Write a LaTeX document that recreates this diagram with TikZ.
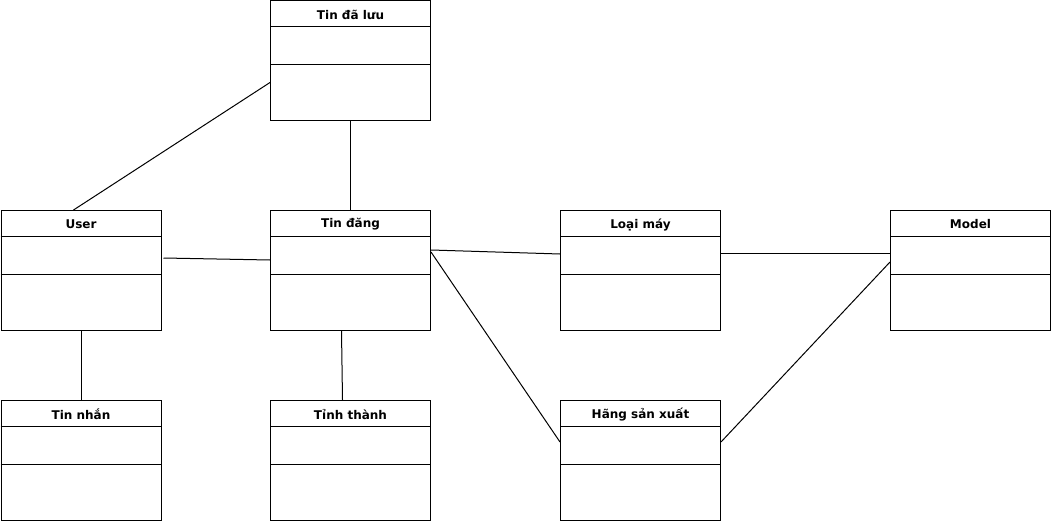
\documentclass[tikz,border=0pt]{standalone}
\usepackage{fontspec}
\setmainfont{DejaVu Sans}
\usetikzlibrary{calc}
\tikzset{
  umlclass/.style={draw, line width=1pt, minimum width=160pt, minimum height=120pt, inner sep=0pt, fill=white},
  umltitle/.style={font=\bfseries\fontsize{12pt}{14pt}\selectfont, inner sep=0pt, anchor=center},
  conn/.style={line width=1pt},
  sepline/.style={line width=1pt}
}
\newcommand{\umlbox}[3]{%
  \node[umlclass, anchor=north west] (#1) at (#2) {};
  \node[umltitle] (#1t) at ($(#1.north)+(0,14.5)$) {#3};
  \draw[sepline] ($(#1.north west)+(0,26)$) -- ($(#1.north east)+(0,26)$);
  \draw[sepline] ($(#1.north west)+(0,64)$) -- ($(#1.north east)+(0,64)$);
}
\begin{document}
\begin{tikzpicture}[x=1pt,y=-1pt]
\useasboundingbox (0,0) rectangle (1052,524);
\umlbox{tdl}{270,0.5}{Tin đã lưu}
\umlbox{user}{0.5,210}{User}
\umlbox{tindang}{270,210}{Tin đăng}
\umlbox{loaimay}{560,210}{Loại máy}
\umlbox{model}{890,210}{Model}
\umlbox{tinnhan}{0.5,400}{Tin nhắn}
\umlbox{tinhthanh}{270,400}{Tỉnh thành}
\umlbox{hang}{560,400}{Hãng sản xuất}

\draw[conn] ($(tdl.north west)+(0,82)$) -- ($(user.north west)+(73,0)$);
\draw[conn] (tdl.south) -- (tindang.north);
\draw[conn] ($(user.north east)+(2,48)$) -- ($(tindang.north west)+(0,50)$);
\draw[conn] (user.south) -- (tinnhan.north);
\draw[conn] ($(tindang.south)+(-9,0)$) -- ($(tinhthanh.north)+(-8,0)$);
\draw[conn] ($(tindang.north east)+(0,40)$) -- ($(loaimay.north west)+(0,44)$);
\draw[conn] ($(tindang.north east)+(0,42)$) -- ($(hang.north west)+(0,42)$);
\draw[conn] ($(loaimay.north east)+(0,43)$) -- ($(model.north west)+(0,43)$);
\draw[conn] ($(model.north west)+(0,52)$) -- ($(hang.north east)+(0,42)$);
\end{tikzpicture}
\end{document}
